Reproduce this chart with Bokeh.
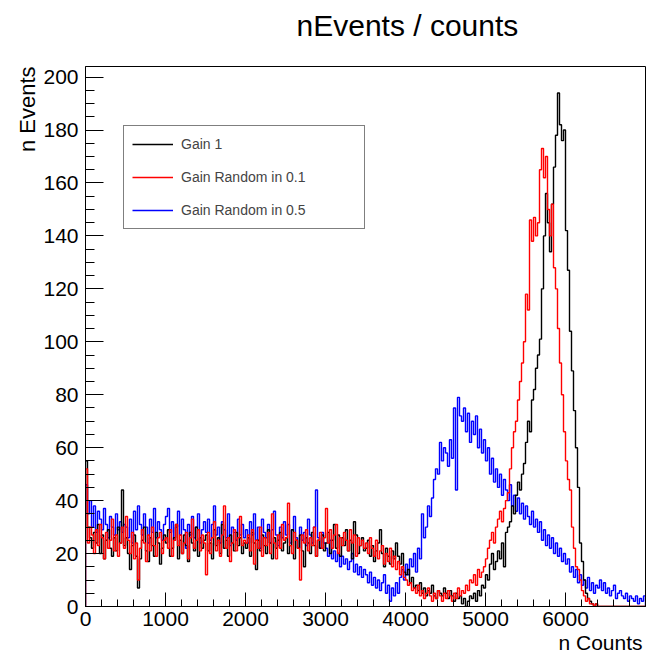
import numpy as np
from bokeh.plotting import figure
from bokeh.models import Range1d, SingleIntervalTicker, Legend, LegendItem, Title
from bokeh.embed import file_html
from bokeh.resources import INLINE

BIN_WIDTH = 25
X_START = 0

gain1 = [
    55, 30, 26, 22, 28, 24, 31, 20, 27, 18, 25, 29, 22, 19, 26, 21, 30, 24, 44, 23,
    26, 20, 14, 23, 27, 19, 7, 18, 25, 30, 21, 17, 26, 23, 19, 28, 24, 16, 22, 27,
    24, 29, 19, 22, 26, 31, 18, 25, 20, 27, 23, 17, 28, 24, 21, 30, 19, 26, 22, 25,
    27, 21, 24, 18, 29, 23, 26, 20, 31, 22, 25, 19, 27, 24, 21, 28, 23, 26, 20, 24,
    22, 26, 19, 28, 24, 14, 25, 21, 27, 23, 20, 29, 24, 18, 26, 22, 25, 28, 21, 24,
    26, 20, 23, 29, 18, 25, 22, 27, 21, 15, 26, 24, 20, 28, 23, 19, 25, 22, 27, 21,
    24, 28, 20, 25, 31, 22, 27, 19, 26, 23, 29, 21, 25, 18, 32, 27, 20, 23, 26, 21,
    22, 25, 19, 23, 17, 21, 24, 29, 20, 15, 22, 19, 16, 21, 18, 24, 19, 16, 20, 13,
    12, 14, 9, 11, 7, 8, 6, 9, 5, 7, 4, 6, 5, 8, 4, 3, 6, 5, 4, 7,
    5, 3, 6, 4, 2, 5, 3, 4, 1, 3, 0, 2, 4, 3, 5, 2, 6, 4, 8, 7,
    12, 10, 16, 20, 14, 17, 21, 18, 24, 15, 28, 30, 32, 38, 35, 42, 47, 44, 50, 54,
    62, 70, 66, 78, 82, 90, 95, 101, 120, 140, 156, 145, 134, 152, 166, 178, 194, 182, 176, 180,
    142, 127, 104, 89, 74, 60, 45, 24, 17, 10, 5, 3, 2, 1, 0, 1, 0, 0, 0, 0,
    0, 0, 0, 0, 0, 0, 0, 0, 0, 0, 0, 0, 0, 0, 0, 0, 0, 0, 0, 0,
]

gain_rand_01 = [
    52, 24, 30, 27, 20, 29, 23, 31, 26, 18, 28, 22, 25, 33, 21, 27, 19, 24, 30, 22,
    34, 25, 20, 28, 18, 24, 10, 22, 29, 24, 17, 27, 21, 30, 23, 19, 26, 28, 20, 25,
    26, 22, 29, 19, 25, 31, 23, 27, 20, 24, 28, 18, 26, 33, 22, 25, 29, 21, 27, 24,
    12, 28, 20, 26, 32, 21, 25, 19, 27, 38, 22, 26, 17, 24, 29, 21, 26, 34, 23, 25,
    24, 27, 21, 29, 16, 25, 22, 30, 19, 26, 23, 28, 20, 35, 24, 18, 27, 22, 31, 25,
    26, 39, 23, 20, 28, 25, 22, 10, 27, 24, 29, 21, 26, 23, 30, 19, 25, 28, 22, 26,
    37, 24, 29, 22, 27, 31, 20, 26, 23, 28, 25, 21, 29, 24, 27, 19, 26, 23, 25, 22,
    24, 20, 26, 22, 19, 25, 18, 21, 23, 16, 20, 17, 22, 15, 19, 14, 17, 12, 15, 11,
    10, 8, 9, 6, 7, 5, 8, 4, 6, 3, 5, 7, 4, 2, 5, 3, 6, 4, 2, 5,
    3, 6, 4, 2, 5, 3, 7, 4, 6, 5, 8, 6, 10, 9, 12, 8, 14, 11, 13, 15,
    18, 22, 25, 28, 24, 30, 33, 36, 32, 37, 40, 43, 52, 60, 66, 70, 78, 85, 92, 100,
    118, 112, 146, 138, 147, 140, 145, 165, 173, 162, 170, 150, 140, 152, 128, 120, 105, 92, 80, 66,
    55, 48, 44, 30, 22, 15, 14, 10, 6, 4, 2, 3, 1, 1, 0, 1, 0, 0, 0, 0,
    0, 0, 0, 0, 0, 0, 0, 0, 0, 0, 0, 0, 0, 0, 0, 0, 0, 0, 0, 0,
]

gain_rand_05 = [
    46, 35, 40, 30, 38, 28, 36, 33, 29, 37, 31, 26, 34, 30, 27, 35, 29, 32, 28, 31,
    30, 26, 33, 24, 36, 29, 38, 31, 27, 35, 30, 24, 33, 28, 37, 26, 32, 29, 25, 31,
    34, 37, 28, 32, 25, 30, 36, 27, 33, 29, 22, 31, 27, 34, 26, 30, 35, 24, 29, 32,
    28, 33, 25, 31, 38, 27, 30, 24, 32, 29, 26, 35, 23, 30, 28, 25, 33, 27, 31, 26,
    29, 24, 32, 27, 35, 25, 30, 22, 33, 28, 26, 31, 24, 29, 36, 27, 23, 30, 26, 32,
    27, 31, 24, 29, 34, 26, 22, 30, 25, 28, 23, 33, 27, 24, 30, 44, 26, 22, 28, 24,
    22, 19, 25, 18, 21, 17, 20, 15, 19, 16, 18, 14, 17, 20, 13, 16, 12, 15, 11, 14,
    12, 9, 13, 8, 11, 7, 10, 6, 9, 12, 5, 8, 2, 7, 4, 9, 5, 11, 14, 10,
    16, 12, 18, 15, 20, 13, 22, 18, 35, 26, 30, 38, 34, 41, 48, 52, 50, 62, 55, 60,
    58, 53, 63, 56, 75, 44, 79, 72, 70, 75, 66, 73, 62, 70, 65, 72, 60, 67, 58, 63,
    55, 60, 50, 56, 47, 52, 45, 50, 42, 48, 44, 40, 46, 38, 42, 36, 41, 35, 39, 33,
    38, 34, 31, 36, 30, 33, 28, 32, 25, 29, 23, 27, 22, 26, 20, 24, 19, 22, 17, 20,
    16, 18, 13, 15, 11, 14, 9, 12, 8, 10, 7, 11, 6, 9, 5, 8, 7, 10, 6, 9,
    5, 7, 4, 6, 8, 3, 5, 6, 4, 3, 5, 2, 4, 3, 2, 4, 1, 3, 2, 4,
]

series_labels = ["Gain 1", "Gain Random in 0.1", "Gain Random in 0.5"]
series_colors = ["#000000", "#ff0000", "#0000ff"]

title_text = "nEvents / counts"
x_title = "n Counts"
y_title = "n Events"

FONT = "Liberation Sans"


def step_outline(values):
    vals = np.asarray(values, dtype=float)
    edges = X_START + BIN_WIDTH * np.arange(len(vals) + 1)
    xs = np.concatenate([[edges[0]], np.repeat(edges, 2)[1:-1], [edges[-1]]])
    ys = np.concatenate([[0.0], np.repeat(vals, 2), [0.0]])
    return xs, ys


p = figure(
    width=646, height=657,
    output_backend="svg", toolbar_location=None,
    x_range=Range1d(0, 7000), y_range=Range1d(0, 204),
    min_border_left=85, min_border_right=1,
    min_border_top=66, min_border_bottom=51,
    title=None,
)
p.background_fill_color = "white"
p.border_fill_color = "white"
p.outline_line_color = "black"
p.outline_line_width = 1
p.xgrid.visible = False
p.ygrid.visible = False

p.xaxis.ticker = SingleIntervalTicker(interval=1000, num_minor_ticks=5)
p.yaxis.ticker = SingleIntervalTicker(interval=20, num_minor_ticks=4)
p.xaxis.major_label_overrides = {7000: ""}
for ax in (p.xaxis, p.yaxis):
    ax.axis_line_color = "black"
    ax.major_tick_line_color = "black"
    ax.minor_tick_line_color = "black"
    ax.major_tick_out = 0
    ax.minor_tick_out = 0
    ax.major_label_text_font = FONT
    ax.major_label_text_font_size = "21px"
    ax.major_label_text_color = "black"
p.xaxis.major_tick_in = 14
p.xaxis.minor_tick_in = 7
p.yaxis.major_tick_in = 18
p.yaxis.minor_tick_in = 9
p.xaxis.major_label_standoff = 5
p.yaxis.major_label_standoff = 7

datasets = [gain1, gain_rand_01, gain_rand_05]
renderers = {}
for idx in (2, 0, 1):
    xs, ys = step_outline(datasets[idx])
    renderers[idx] = p.line(xs, ys, line_color=series_colors[idx], line_width=1.4)

legend = Legend(
    items=[LegendItem(label=series_labels[i], renderers=[renderers[i]]) for i in range(3)],
    location=(38, 377),
    margin=0,
    padding=8,
    spacing=13,
    glyph_width=41,
    glyph_height=20,
    label_height=20,
    label_width=175,
    label_standoff=8,
    label_text_font=FONT,
    label_text_font_size="14px",
    border_line_color="black",
    border_line_width=1,
    background_fill_color="white",
    background_fill_alpha=1.0,
)
p.add_layout(legend)

# spacer between frame and main title (keeps the title near the top edge)
p.add_layout(Title(text=" ", text_font=FONT, text_font_size="10px",
                   standoff=12), "above")
p.add_layout(Title(text=title_text, align="left", offset=211, text_font=FONT,
                   text_font_size="30px", text_font_style="normal",
                   text_color="black", standoff=0), "above")
p.add_layout(Title(text=x_title, align="right", offset=3, text_font=FONT,
                   text_font_size="21px", text_font_style="normal",
                   text_color="black", standoff=0), "below")
p.add_layout(Title(text=y_title, align="right", offset=0, text_font=FONT,
                   text_font_size="22px", text_font_style="normal",
                   text_color="black", standoff=2), "left")

open("out.html", "w").write(file_html(p, INLINE))
